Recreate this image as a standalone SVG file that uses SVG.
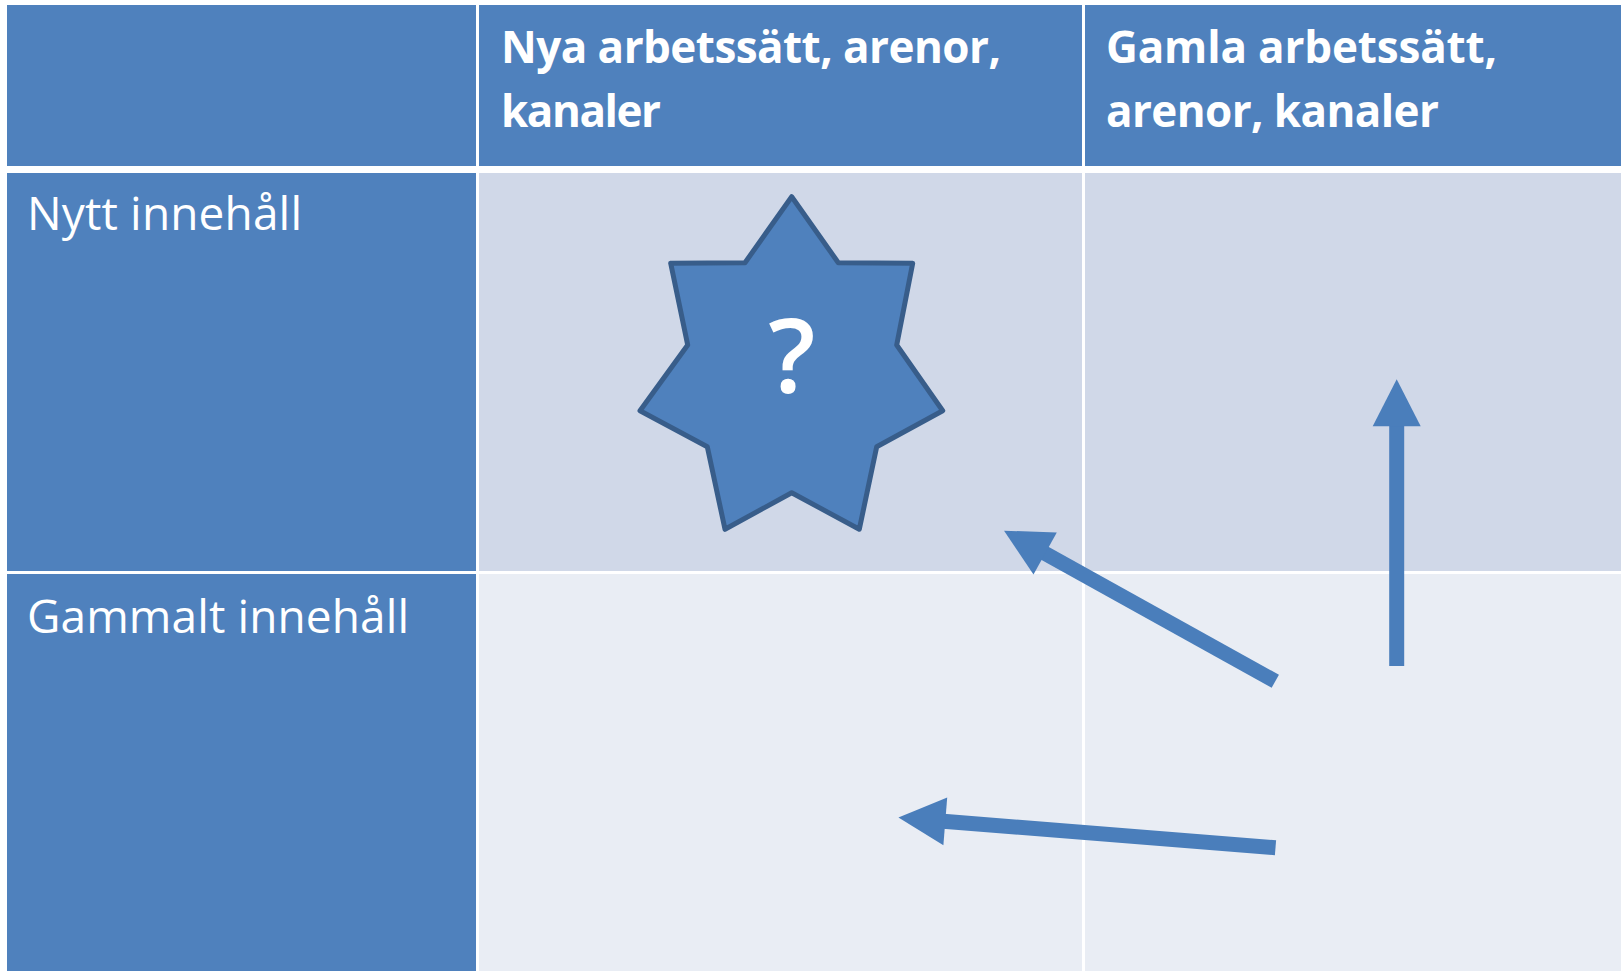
<svg xmlns="http://www.w3.org/2000/svg" width="1623" height="971" viewBox="0 0 1623 971">
  <style>
    .hdr { fill: #4F81BD; }
    .r1 { fill: #D0D8E8; }
    .r2 { fill: #E9EDF4; }
    .ht { font-family: "Open Sans", "Liberation Sans", sans-serif; font-weight: bold; font-size: 44px; fill: #FFFFFF; }
    .lt { font-family: "Open Sans", "Liberation Sans", sans-serif; font-size: 46px; fill: #FFFFFF; }
    .star { fill: #4F81BD; stroke: #385D8A; stroke-width: 5; stroke-linejoin: round; }
    .qm { font-family: "Open Sans", "Liberation Sans", sans-serif; font-weight: 600; font-size: 104px; fill: #FFFFFF; text-anchor: middle; }
    .arrow { stroke: #4A7EBB; stroke-width: 15; fill: none; marker-end: url(#head); }
  </style>
  <defs>
    <marker id="head" markerUnits="userSpaceOnUse" markerWidth="50" markerHeight="50" refX="2" refY="24" orient="auto" overflow="visible">
      <path d="M0,0 L47,24 L0,48 Z" fill="#4A7EBB"/>
    </marker>
  </defs>
  <rect x="0" y="0" width="1623" height="971" fill="#FFFFFF"/>

  <g id="cell-header-corner"><rect class="hdr" x="7" y="5" width="469" height="161"/></g>
  <g id="cell-header-new">
    <rect class="hdr" x="479" y="5" width="603" height="161"/>
    <text class="ht" x="501" y="63" textLength="500" lengthAdjust="spacing">Nya arbetssätt, arenor,</text>
    <text class="ht" x="501" y="127" textLength="160" lengthAdjust="spacing">kanaler</text>
  </g>
  <g id="cell-header-old">
    <rect class="hdr" x="1085" y="5" width="536" height="161"/>
    <text class="ht" x="1106" y="63" textLength="391" lengthAdjust="spacing">Gamla arbetssätt,</text>
    <text class="ht" x="1106" y="127" textLength="333" lengthAdjust="spacing">arenor, kanaler</text>
  </g>
  <g id="cell-row-new">
    <rect class="hdr" x="7" y="173" width="469" height="398"/>
    <text class="lt" x="27" y="230" textLength="275" lengthAdjust="spacing">Nytt innehåll</text>
  </g>
  <g id="cell-row-old">
    <rect class="hdr" x="7" y="574" width="469" height="397"/>
    <text class="lt" x="27" y="633" textLength="382" lengthAdjust="spacing">Gammalt innehåll</text>
  </g>
  <g id="cell-new-new"><rect class="r1" x="479" y="173" width="603" height="398"/></g>
  <g id="cell-new-old"><rect class="r1" x="1085" y="173" width="536" height="398"/></g>
  <g id="cell-old-new"><rect class="r2" x="479" y="574" width="603" height="397"/></g>
  <g id="cell-old-old"><rect class="r2" x="1085" y="574" width="536" height="397"/></g>

  <g id="star">
    <polygon class="star" points="791.7,196.7 838.3,262.7 912.7,263.3 896.7,345 942.7,410.7 876.7,446.7 859.3,529.3 791.7,492.7 725,529.3 707.3,446.7 640,410.7 687.7,345 670.7,263.3 745,262.7"/>
    <text class="qm" x="792" y="393">?</text>
  </g>

  <g id="connectors">
    <line class="arrow" x1="1275.3" y1="681.3" x2="1043.4" y2="552.5"/>
    <line class="arrow" x1="1275.5" y1="847.7" x2="943.3" y2="821.2"/>
    <line class="arrow" x1="1396.7" y1="666" x2="1396.7" y2="424.3"/>
  </g>
</svg>
